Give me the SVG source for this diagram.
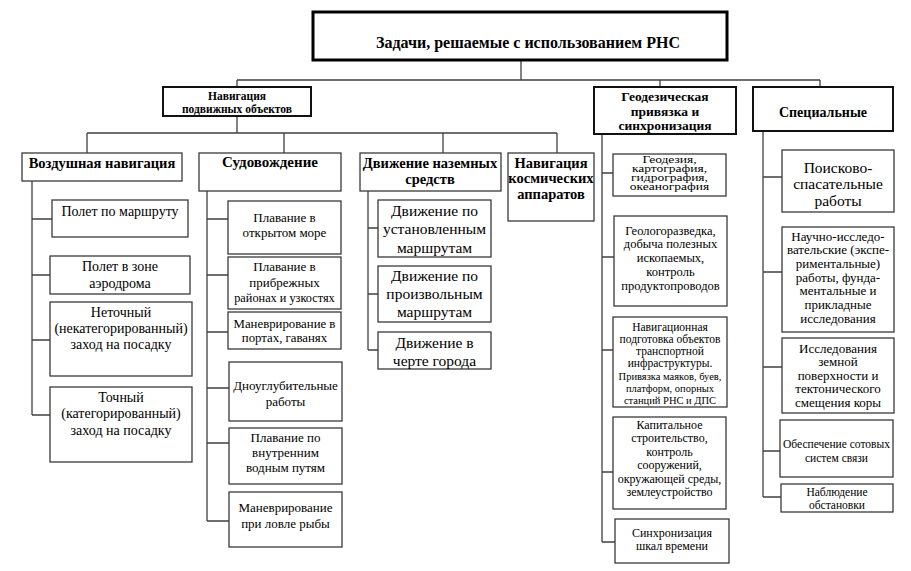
<svg xmlns="http://www.w3.org/2000/svg" width="911" height="571" viewBox="0 0 911 571">
<style>
.b{fill:#fff;stroke:#3a3a3a;stroke-width:1.3}
.h{fill:#fff;stroke:#111;stroke-width:2}
.t{fill:#fff;stroke:#000;stroke-width:3}
text{font-family:"Liberation Serif","Times New Roman","DejaVu Serif",serif;fill:#000;text-anchor:middle}
.bd{font-weight:bold}
.c path{fill:none;stroke:#404040;stroke-width:1.3}
</style>
<rect width="911" height="571" fill="#fff"/>
<g class="c" id="connectors">
<path d="M521 60V80M237 80H820M237 80V87M660 80V87M820 80V87"/>
<path d="M237 116V133M87 133H557M87 133V153M284 133V153M443 133V153M557 133V153"/>
<path d="M32 181V415M32 219H52M32 275H50M32 340H50M32 415H50"/>
<path d="M207 191V521M207 219H228M207 275H228M207 332H228M207 388H229M207 443H229M207 521H229"/>
<path d="M368 191V350M368 228H378M368 294H378M368 350H378"/>
<path d="M602 134V542M602 173H613M602 257H614M602 350H613M602 472H613M602 542H615"/>
<path d="M763 131V497M763 177H782M763 272H782M763 367H782M763 451H780M763 497H781"/>
</g>
<g id="root"><rect class="t" x="313" y="12" width="414" height="48"/><text class="bd" x="528" y="47.5" font-size="16">Задачи, решаемые с использованием РНС</text></g>
<g id="nav"><rect class="h" x="163" y="87" width="148" height="29"/><text class="bd" font-size="11.5" x="237" y="100">Навигация</text><text class="bd" font-size="11.5" x="237" y="113">подвижных объектов</text></g>
<g id="air"><rect class="b" x="22" y="153" width="160" height="28"/><text class="bd" font-size="14.5" x="102" y="168">Воздушная навигация</text></g>
<g id="ship"><rect class="b" x="199" y="153" width="142" height="38"/><text class="bd" font-size="15" x="270" y="167">Судовождение</text></g>
<g id="land"><rect class="b" x="360" y="153" width="141" height="38"/><text class="bd" font-size="14.5" x="430" y="168">Движение наземных</text><text class="bd" font-size="14.5" x="430" y="184">средств</text></g>
<g id="space"><rect class="b" x="508" y="153" width="86" height="68"/><text class="bd" font-size="14.5" x="551" y="168">Навигация</text><text class="bd" font-size="14.5" x="551" y="183">космических</text><text class="bd" font-size="14.5" x="551" y="199">аппаратов</text></g>
<g id="geo"><rect class="h" x="594" y="87" width="142" height="47"/><text class="bd" font-size="13.5" x="665" y="101">Геодезическая</text><text class="bd" font-size="13.5" x="665" y="116">привязка и</text><text class="bd" font-size="13.5" x="665" y="130">синхронизация</text></g>
<g id="spec"><rect class="h" x="753" y="87" width="140" height="44"/><text class="bd" font-size="14" x="823" y="117">Специальные</text></g>

<g id="air1"><rect class="b" x="52" y="200" width="136" height="37"/><text font-size="14" x="120" y="216">Полет по маршруту</text></g>
<g id="air2"><rect class="b" x="50" y="256" width="140" height="38"/><text font-size="14" x="120" y="271">Полет в зоне</text><text font-size="14" x="120" y="288">аэродрома</text></g>
<g id="air3"><rect class="b" x="50" y="302" width="142" height="74"/><text font-size="14" x="121" y="317">Неточный</text><text font-size="14" x="121" y="333">(некатегорированный)</text><text font-size="14" x="121" y="349">заход на посадку</text></g>
<g id="air4"><rect class="b" x="50" y="387" width="142" height="75"/><text font-size="14" x="121" y="402">Точный</text><text font-size="14" x="121" y="418">(категорированный)</text><text font-size="14" x="121" y="435">заход на посадку</text></g>

<g id="ship1"><rect class="b" x="228" y="201" width="113" height="53"/><text font-size="13" x="284.5" y="222">Плавание в</text><text font-size="13" x="284.5" y="237">открытом море</text></g>
<g id="ship2"><rect class="b" x="228" y="257" width="113" height="52"/><text font-size="13" x="284.5" y="271">Плавание в</text><text font-size="13" x="284.5" y="287">прибрежных</text><text font-size="12.3" x="284.5" y="302">районах и узкостях</text></g>
<g id="ship3"><rect class="b" x="228" y="312" width="113" height="37"/><text font-size="12.8" x="284.5" y="328">Маневрирование в</text><text font-size="12.8" x="284.5" y="342">портах, гаванях</text></g>
<g id="ship4"><rect class="b" x="229" y="362" width="113" height="59"/><text font-size="13" x="285.5" y="390">Дноуглубительные</text><text font-size="13" x="285.5" y="406">работы</text></g>
<g id="ship5"><rect class="b" x="229" y="428" width="113" height="56"/><text font-size="13" x="285.5" y="442">Плавание по</text><text font-size="13" x="285.5" y="457">внутренним</text><text font-size="13" x="285.5" y="472">водным путям</text></g>
<g id="ship6"><rect class="b" x="229" y="492" width="113" height="55"/><text font-size="13" x="285.5" y="512">Маневрирование</text><text font-size="13" x="285.5" y="528">при ловле рыбы</text></g>

<g id="land1"><rect class="b" x="378" y="200" width="113" height="57"/><text font-size="15.5" x="434.5" y="215.5">Движение по</text><text font-size="15.5" x="434.5" y="234">установленным</text><text font-size="15.5" x="434.5" y="252.5">маршрутам</text></g>
<g id="land2"><rect class="b" x="378" y="266" width="113" height="56"/><text font-size="15.5" x="434.5" y="281">Движение по</text><text font-size="15.5" x="434.5" y="299">произвольным</text><text font-size="15.5" x="434.5" y="317">маршрутам</text></g>
<g id="land3"><rect class="b" x="378" y="332" width="113" height="37"/><text font-size="15.5" x="434.5" y="348">Движение в</text><text font-size="15.5" x="434.5" y="366">черте города</text></g>

<g id="geo1"><rect class="b" x="613" y="154" width="113" height="42"/><g transform="translate(669.5 154) scale(1 0.7)"><text font-size="13.5" x="0" y="13.5">Геодезия,</text><text font-size="13.5" x="0" y="26">картография,</text><text font-size="13.5" x="0" y="38.5">гидрография,</text><text font-size="13.5" x="0" y="51">океанография</text></g></g>
<g id="geo2"><rect class="b" x="614" y="216" width="113" height="90"/><text font-size="12.5" x="670.5" y="234.5">Геологоразведка,</text><text font-size="12.5" x="670.5" y="248.3">добыча полезных</text><text font-size="12.5" x="670.5" y="262.1">ископаемых,</text><text font-size="12.5" x="670.5" y="275.9">контроль</text><text font-size="12.5" x="670.5" y="289.7">продуктопроводов</text></g>
<g id="geo3"><rect class="b" x="613" y="317" width="114" height="90"/><text font-size="11.5" x="670" y="331">Навигационная</text><text font-size="11.5" x="670" y="343">подготовка объектов</text><text font-size="11.5" x="670" y="355">транспортной</text><text font-size="11.5" x="670" y="367">инфраструктуры.</text><text font-size="10.5" x="670" y="380">Привязка маяков, буев,</text><text font-size="10.5" x="670" y="392">платформ, опорных</text><text font-size="10.5" x="670" y="404">станций РНС и ДПС</text></g>
<g id="geo4"><rect class="b" x="613" y="417" width="113" height="92"/><text font-size="12" x="669.5" y="429">Капитальное</text><text font-size="12" x="669.5" y="442.4">строительство,</text><text font-size="12" x="669.5" y="455.8">контроль</text><text font-size="12" x="669.5" y="469.2">сооружений,</text><text font-size="12" x="669.5" y="482.6">окружающей среды,</text><text font-size="12" x="669.5" y="496">землеустройство</text></g>
<g id="geo5"><rect class="b" x="615" y="519" width="114" height="44"/><text font-size="12" x="672" y="536.5">Синхронизация</text><text font-size="12" x="672" y="549.5">шкал времени</text></g>

<g id="spec1"><rect class="b" x="782" y="150" width="112" height="62"/><text font-size="15.5" x="838" y="172.5">Поисково-</text><text font-size="15.5" x="838" y="189">спасательные</text><text font-size="15.5" x="838" y="205.5">работы</text></g>
<g id="spec2"><rect class="b" x="782" y="227" width="112" height="105"/><text font-size="13" x="838" y="240.5">Научно-исследо-</text><text font-size="13" x="838" y="254.2">вательские (экспе-</text><text font-size="13" x="838" y="267.9">риментальные)</text><text font-size="13" x="838" y="281.6">работы, фунда-</text><text font-size="13" x="838" y="295.3">ментальные и</text><text font-size="13" x="838" y="309">прикладные</text><text font-size="13" x="838" y="322.7">исследования</text></g>
<g id="spec3"><rect class="b" x="782" y="338" width="112" height="75"/><text font-size="13" x="838" y="352.5">Исследования</text><text font-size="13" x="838" y="366">земной</text><text font-size="13" x="838" y="379.5">поверхности и</text><text font-size="13" x="838" y="393">тектонического</text><text font-size="13" x="838" y="406.5">смещения коры</text></g>
<g id="spec4"><rect class="b" x="780" y="420" width="113" height="57"/><text font-size="11.5" x="836.5" y="447.5">Обеспечение сотовых</text><text font-size="11.5" x="836.5" y="461.5">систем связи</text></g>
<g id="spec5"><rect class="b" x="781" y="484" width="112" height="28"/><text font-size="11.5" x="837" y="496">Наблюдение</text><text font-size="11.5" x="837" y="509">обстановки</text></g>
</svg>
